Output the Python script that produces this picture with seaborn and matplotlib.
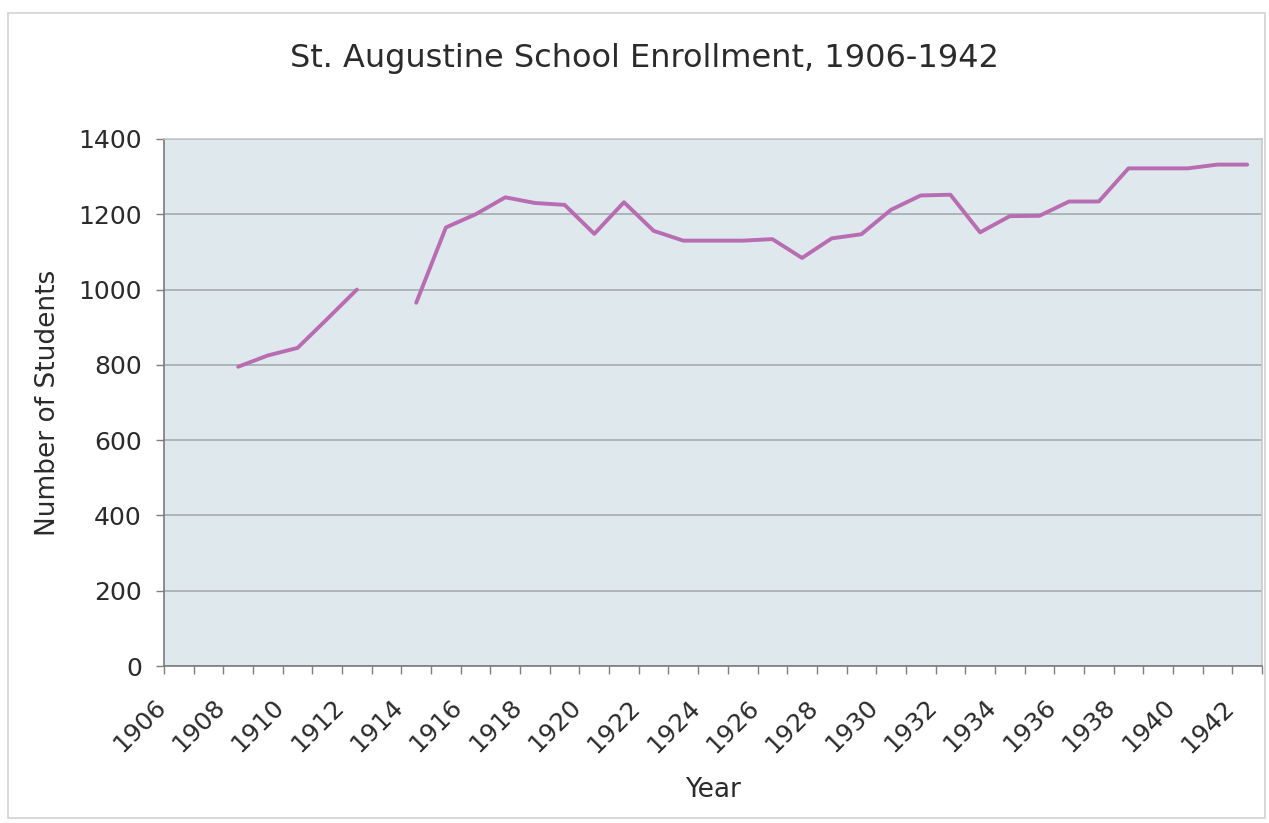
import numpy as np
import pandas as pd
import matplotlib.pyplot as plt
import matplotlib.transforms as mtransforms
from matplotlib.patches import Rectangle
import seaborn as sns

# enrollment by year, 1913 and 1906-1907 have no data
years = list(range(1906, 1943))
students = [np.nan, np.nan, 795, 825, 845, 922, 1000, np.nan, 965, 1165,
            1200, 1245, 1230, 1225, 1148, 1232, 1156, 1130, 1130, 1130,
            1134, 1084, 1136, 1147, 1212, 1250, 1252, 1152, 1195, 1196,
            1234, 1234, 1322, 1322, 1322, 1332, 1332]
label_years = list(range(1906, 1943, 2))

if __name__ == "__main__":
    df = pd.DataFrame({"Year": years, "Students": students})
    # split into runs so the gap at 1913 stays open
    df["segment"] = df["Students"].isna().cumsum()
    df = df.dropna()

    sns.set_style("white")
    plt.rcParams["font.family"] = ["DejaVu Sans"]
    text_color = "#2b2b2b"

    fig = plt.figure(figsize=(12.69, 8.23), dpi=100)
    ax = fig.add_axes([164 / 1269, 1 - 666 / 823, (1262 - 164) / 1269, (666 - 139) / 823])
    ax.set_facecolor("#dfe8ec")

    sns.lineplot(data=df, x="Year", y="Students", units="segment", estimator=None,
                 color="#b86cb1", linewidth=2.8, ax=ax)

    ax.set_xlim(1905.5, 1942.5)
    ax.set_ylim(0, 1400)
    ax.set_yticks(range(0, 1401, 200))
    ax.yaxis.grid(True, color="#a3abae", linewidth=1.2)
    ax.set_axisbelow(True)

    # tick marks between categories, labels on even years
    ax.set_xticks(np.arange(1905.5, 1943, 1))
    ax.set_xticklabels([])
    ax.set_xticks(label_years, minor=True)
    ax.set_xticklabels([str(y) for y in label_years], minor=True,
                       rotation=45, ha="right", va="center", rotation_mode="anchor")
    ax.tick_params(axis="x", which="major", direction="out", length=6, width=1,
                   color="#7f7f7f", bottom=True)
    ax.tick_params(axis="x", which="minor", length=0, pad=27, labelsize=18,
                   labelcolor=text_color)
    ax.tick_params(axis="y", direction="out", length=6, width=1, color="#7f7f7f",
                   left=True, labelsize=18, labelcolor=text_color, pad=10)
    offset = mtransforms.ScaledTranslation(-0.17, 0, fig.dpi_scale_trans)
    for lab in ax.get_xticklabels(minor=True):
        lab.set_transform(lab.get_transform() + offset)

    for side in ["left", "bottom"]:
        ax.spines[side].set_color("#7a7a7a")
        ax.spines[side].set_linewidth(1.2)
    for side in ["top", "right"]:
        ax.spines[side].set_color("#c4c8ca")
        ax.spines[side].set_linewidth(1.2)

    ax.set_xlabel("Year", fontsize=19, color=text_color, labelpad=14)
    ax.set_ylabel("Number of Students", fontsize=19, color=text_color, labelpad=12)
    fig.text(644 / 1269, 1 - 58 / 823, "St. Augustine School Enrollment, 1906-1942",
             ha="center", va="center", fontsize=23, color=text_color)

    fig.patches.append(Rectangle((8 / 1269, 1 - 818 / 823), (1265 - 8) / 1269, (818 - 13) / 823,
                                 transform=fig.transFigure, fill=False,
                                 edgecolor="#d2d2d2", linewidth=1.2))

    fig.savefig("out.png", dpi=100)
    plt.close(fig)
